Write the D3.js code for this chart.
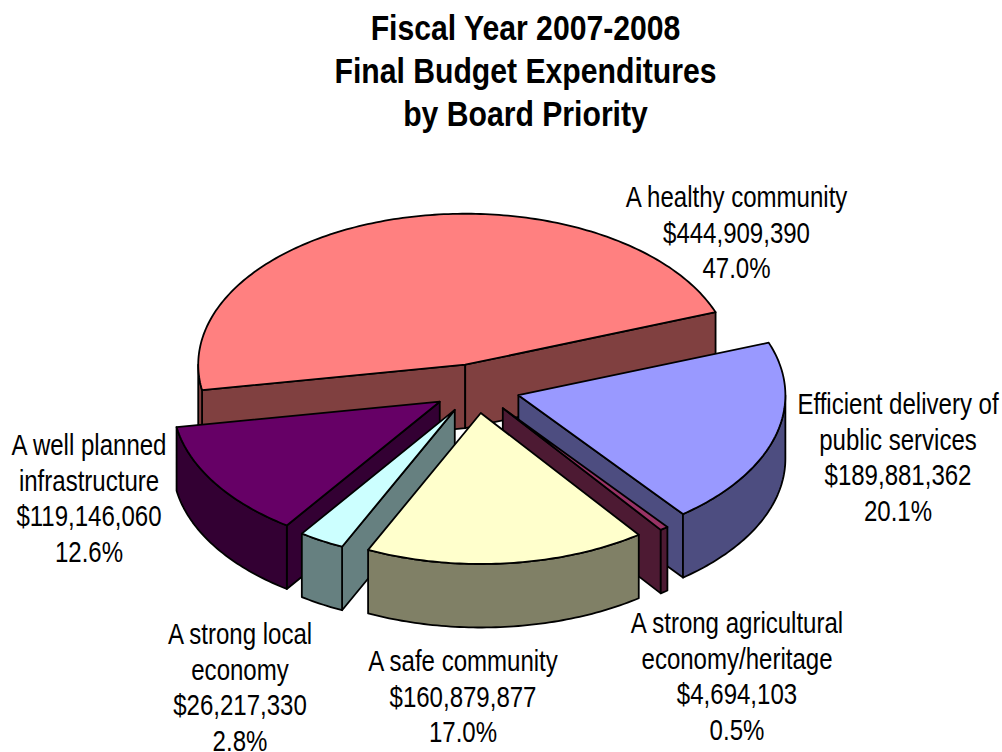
<!DOCTYPE html>
<html><head><meta charset="utf-8">
<script src="https://cdn.jsdelivr.net/npm/d3@7/dist/d3.min.js"></script>
<style>html,body{margin:0;padding:0;background:#fff}svg{display:block}</style>
</head><body><svg id="c" width="1002" height="752"></svg>
<script>
const names = ["A healthy community","Efficient delivery of public services","A strong agricultural economy/heritage","A safe community","A strong local economy","A well planned infrastructure"];
const amounts = [444909390,189881362,4694103,160879877,26217330,119146060];
const percents = ["47.0%","20.1%","0.5%","17.0%","2.8%","12.6%"];
const topColors = ["#FF8080","#9999FF","#993366","#FFFFCC","#CCFFFF","#660066"];
const wallColors = ["#804040","#4D4D80","#4D1A33","#808066","#668080","#330033"];
const labelLines = [["A healthy community"],["Efficient delivery of","public services"],["A strong agricultural","economy/heritage"],["A safe community"],["A strong local","economy"],["A well planned","infrastructure"]];
const labelCenters = [[736.5,207],[898,414],[737,633],[463,671],[240,644],[89,455]];
const titleLines = ["Fiscal Year 2007-2008","Final Budget Expenditures","by Board Priority"];

const deg = Math.PI/180;
const cx = 476.5, cy = 388.5, rx = 267, ry = 151, depth = 63.5, explode = 0.163;
const svg = d3.select("#c");
const pie = d3.pie().sort(null).startAngle(-99.7*deg).endAngle(260.3*deg);
const arcs = pie(amounts);

function rim(a){ // a: clockwise from the top, radians
  return [rx*Math.sin(a), -ry*Math.cos(a)];
}
const line = d3.line();
const fmt = d3.format("$,");

const drawOrder = [0,1,2,5,4,3];
drawOrder.forEach(i => {
  const d = arcs[i], mid = (d.startAngle+d.endAngle)/2;
  const ax = cx + explode*rx*Math.sin(mid), ay = cy - explode*ry*Math.cos(mid);
  const P = p => [ax+p[0], ay+p[1]];
  const down = p => [p[0], p[1]+depth];
  const g = svg.append("g");
  const style = (sel,fill) => sel.attr("fill",fill).attr("stroke","#000").attr("stroke-width",1.8).attr("stroke-linejoin","round");
  const A = [ax,ay];
  const m = rim(mid);
  // radial walls
  [d.startAngle,d.endAngle].forEach(a => {
    const v = rim(a);
    const cross = v[0]*m[1]-v[1]*m[0];
    if (Math.sign(cross) !== Math.sign(v[0])) {
      const E = P(v);
      style(g.append("path").attr("d", line([A,E,down(E),down(A)])+"Z"), wallColors[i]);
    }
  });
  // outer wall: part of the rim facing the viewer
  [[90,270],[-270,-90]].forEach(([lo,hi]) => {
    const a0 = Math.max(d.startAngle, lo*deg), a1 = Math.min(d.endAngle, hi*deg);
    if (a1 > a0) {
      const n = Math.ceil((a1-a0)/deg)+1;
      const pts = d3.range(n+1).map(k => P(rim(a0+(a1-a0)*k/n)));
      const poly = pts.concat(pts.slice().reverse().map(down));
      style(g.append("path").attr("d", line(poly)+"Z"), wallColors[i]);
    }
  });
  // top face
  const n = Math.ceil((d.endAngle-d.startAngle)/deg)+1;
  const pts = d3.range(n+1).map(k => P(rim(d.startAngle+(d.endAngle-d.startAngle)*k/n)));
  style(g.append("path").attr("d", line([A].concat(pts))+"Z"), topColors[i]);
});

const font = "'Liberation Sans', Arial, sans-serif";
function put(str,x,y,size,weight,sx){
  svg.append("text").text(str).attr("text-anchor","middle")
    .attr("transform",`translate(${x},${y}) scale(${sx},1)`)
    .attr("font-family",font).attr("font-size",size).attr("font-weight",weight).attr("fill","#000");
}
titleLines.forEach((t,k)=>put(t,525.5,39.5+k*43.2,35,"bold",0.862));
labelLines.forEach((lines,i)=>{
  const all = lines.concat([fmt(amounts[i]),percents[i]]);
  all.forEach((t,k)=>put(t,labelCenters[i][0],labelCenters[i][1]+k*35.5,29.5,"normal",0.815));
});
</script></body></html>
